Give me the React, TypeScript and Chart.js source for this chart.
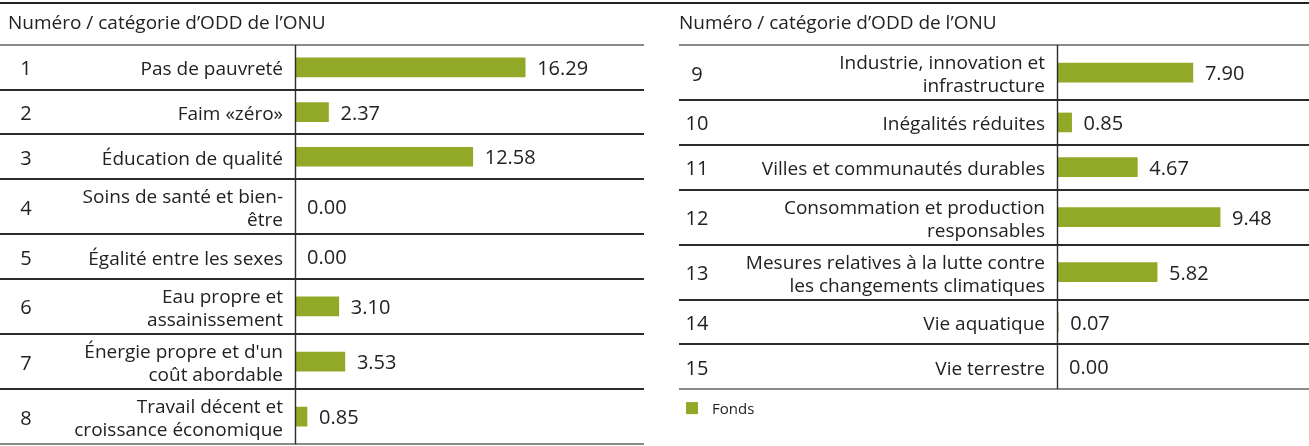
import React, { useEffect, useRef } from "react";
import { Chart, registerables } from "chart.js";

Chart.register(...registerables);

// ---------- data ----------
const HEADER = "Numéro / catégorie d’ODD de l’ONU";
const SERIES_LABEL = "Fonds";

const leftNumbers = ["1", "2", "3", "4", "5", "6", "7", "8"];
const leftCategories: string[][] = [
  ["Pas de pauvreté"],
  ["Faim «zéro»"],
  ["Éducation de qualité"],
  ["Soins de santé et bien-", "être"],
  ["Égalité entre les sexes"],
  ["Eau propre et", "assainissement"],
  ["Énergie propre et d'un", "coût abordable"],
  ["Travail décent et", "croissance économique"],
];
const leftValues = [16.29, 2.37, 12.58, 0.0, 0.0, 3.1, 3.53, 0.85];

const rightNumbers = ["9", "10", "11", "12", "13", "14", "15"];
const rightCategories: string[][] = [
  ["Industrie, innovation et", "infrastructure"],
  ["Inégalités réduites"],
  ["Villes et communautés durables"],
  ["Consommation et production", "responsables"],
  ["Mesures relatives à la lutte contre", "les changements climatiques"],
  ["Vie aquatique"],
  ["Vie terrestre"],
];
const rightValues = [7.9, 0.85, 4.67, 9.48, 5.82, 0.07, 0.0];

const leftAxisMax = 24.7;
const rightAxisMax = 14.65;

// ---------- styles ----------
const GREEN = "#92a827";
const TEXT = "#222222";
const FONT = "'Open Sans', 'Noto Sans', sans-serif";
const FONT_SIZE = 19;
const NUM_FONT_SIZE = 20;
const H = 446;
const TOP = 45;
const ROW_PX = 44.7;
const DOUBLE_ROW = 55.1 / 44.7;
const LINE_H = 23;

type PanelProps = {
  numbers: string[];
  categories: string[][];
  values: number[];
  axisMax: number;
  axisLeft: number;
  lineLeft: number;
  textLeft: number;
  width: number;
  left: number;
  showLegend: boolean;
};

const tablePlugin = {
  id: "table",
  afterDraw(chart: any, _args: any, opts: any) {
    const ctx = chart.ctx as CanvasRenderingContext2D;
    const { chartArea } = chart;
    const xs = chart.scales.x;
    const ys = chart.scales.y;
    const W = chart.width;
    const bounds: number[] = opts.bounds;
    const centers: number[] = opts.centers;
    ctx.save();

    // header text
    ctx.fillStyle = TEXT;
    ctx.font = `${FONT_SIZE}px ${FONT}`;
    ctx.textBaseline = "alphabetic";
    ctx.textAlign = "left";
    ctx.fillText(HEADER, opts.textLeft, 29);

    // horizontal rules
    bounds.forEach((b: number, i: number) => {
      const y = Math.round(ys.getPixelForValue(b));
      const outer = i === 0 || i === bounds.length - 1;
      ctx.strokeStyle = outer ? "#8a8a8a" : "#2b2b2b";
      ctx.lineWidth = 2;
      ctx.beginPath();
      ctx.moveTo(opts.lineLeft, y);
      ctx.lineTo(W, y);
      ctx.stroke();
    });

    // vertical axis line
    const yTop = ys.getPixelForValue(bounds[0]);
    const yBot = ys.getPixelForValue(bounds[bounds.length - 1]);
    ctx.strokeStyle = "#2b2b2b";
    ctx.lineWidth = 1.4;
    ctx.beginPath();
    ctx.moveTo(chartArea.left + 0.5, yTop);
    ctx.lineTo(chartArea.left + 0.5, yBot);
    ctx.stroke();

    // rows
    ctx.fillStyle = TEXT;
    const labels: string[][] = opts.categories;
    const values: number[] = chart.data.datasets[0].data.map((d: any) => d.x);
    labels.forEach((lines: string[], i: number) => {
      const cy = ys.getPixelForValue(centers[i]);
      // number
      ctx.font = `${NUM_FONT_SIZE}px ${FONT}`;
      ctx.textAlign = "center";
      ctx.fillText(opts.numbers[i], opts.textLeft + 18, cy + 8);
      // category
      ctx.font = `${FONT_SIZE}px ${FONT}`;
      ctx.textAlign = "right";
      const n = lines.length;
      lines.forEach((ln: string, k: number) => {
        const my = cy + (k - (n - 1) / 2) * LINE_H;
        ctx.fillText(ln, chartArea.left - 12, my + 8);
      });
      // value
      ctx.font = `${NUM_FONT_SIZE}px ${FONT}`;
      ctx.textAlign = "left";
      const xe = xs.getPixelForValue(values[i]);
      ctx.fillText(values[i].toFixed(2), xe + 12, cy + 7.5);
    });

    // legend
    if (opts.showLegend) {
      const ds = chart.data.datasets[0];
      const ly = yBot + 19;
      ctx.fillStyle = ds.backgroundColor;
      ctx.fillRect(opts.lineLeft + 7, ly - 6, 12, 12);
      ctx.fillStyle = TEXT;
      ctx.font = `15px ${FONT}`;
      ctx.textAlign = "left";
      ctx.fillText(ds.label, opts.lineLeft + 33, ly + 5.5);
    }
    ctx.restore();
  },
};

function Panel(p: PanelProps) {
  const ref = useRef<HTMLCanvasElement | null>(null);
  useEffect(() => {
    if (!ref.current) return;
    const units = p.categories.map((c) => (c.length > 1 ? DOUBLE_ROW : 1));
    const bounds: number[] = [0];
    units.forEach((u) => bounds.push(bounds[bounds.length - 1] + u));
    const centers = units.map((u, i) => bounds[i] + u / 2);
    const total = bounds[bounds.length - 1];
    const chart = new Chart(ref.current, {
      type: "bar",
      data: {
        labels: p.numbers,
        datasets: [
          {
            label: SERIES_LABEL,
            data: p.values.map((v, i) => ({ x: v, y: centers[i] })) as any,
            backgroundColor: GREEN,
            borderWidth: 0,
            barThickness: 19,
          },
        ],
      },
      options: {
        indexAxis: "y",
        animation: false,
        responsive: false,
        maintainAspectRatio: false,
        layout: {
          padding: {
            left: p.axisLeft,
            top: TOP,
            right: 0,
            bottom: H - TOP - total * ROW_PX,
          },
        },
        scales: {
          x: { type: "linear", min: 0, max: p.axisMax, display: false, offset: false, grace: 0 },
          y: { type: "linear", min: 0, max: total, reverse: true, display: false, offset: false },
        },
        plugins: {
          legend: { display: false },
          tooltip: { enabled: false },
          table: {
            bounds,
            centers,
            categories: p.categories,
            numbers: p.numbers,
            lineLeft: p.lineLeft,
            textLeft: p.textLeft,
            showLegend: p.showLegend,
          },
        } as any,
      },
      plugins: [tablePlugin],
    });
    return () => chart.destroy();
  }, []);
  return (
    <canvas
      ref={ref}
      width={p.width}
      height={H}
      style={{ position: "absolute", left: p.left, top: 0, width: p.width, height: H }}
    />
  );
}

export default function App() {
  return (
    <div style={{ position: "absolute", left: 0, top: 0, width: 1309, height: H, background: "#fff" }}>
      <div style={{ position: "absolute", left: 0, top: 2, width: 1309, height: 2, background: "#222" }} />
      <Panel
        numbers={leftNumbers}
        categories={leftCategories}
        values={leftValues}
        axisMax={leftAxisMax}
        axisLeft={295}
        lineLeft={0}
        textLeft={8}
        width={644}
        left={0}
        showLegend={false}
      />
      <Panel
        numbers={rightNumbers}
        categories={rightCategories}
        values={rightValues}
        axisMax={rightAxisMax}
        axisLeft={386}
        lineLeft={8}
        textLeft={8}
        width={638}
        left={671}
        showLegend={true}
      />
    </div>
  );
}
